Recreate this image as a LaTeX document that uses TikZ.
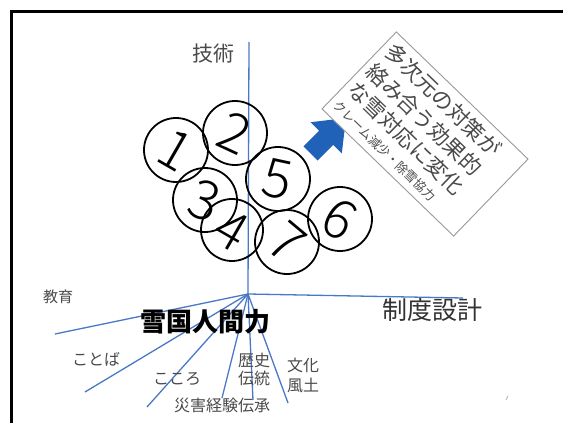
\documentclass[tikz,border=0pt]{standalone}
\usepackage{fontspec}
\setmainfont{Noto Sans CJK JP}
\IfFontExistsTF{Noto Sans CJK JP Light}
  {\newfontfamily\digitfont{Noto Sans CJK JP Light}}
  {\newfontfamily\digitfont{Noto Sans CJK JP}}
\definecolor{axisblue}{HTML}{4A78C8}
\definecolor{arrowblue}{HTML}{1F62B8}
\definecolor{txtgrey}{HTML}{4A4A4A}
\begin{document}
\begin{tikzpicture}[x=1pt,y=-1pt,
  axis/.style={draw=axisblue, line width=1.3},
  numc/.style={circle, draw=black, line width=1.8, minimum size=64, inner sep=0pt,
    font=\digitfont\fontsize{54}{54}\selectfont},
  lbl/.style={text=txtgrey, inner sep=0pt},
  boxtxt/.style={text=txtgrey, inner sep=0pt, transform shape, anchor=west,
    font=\fontsize{21.5}{21.5}\selectfont}]
\useasboundingbox (0,0) rectangle (563,423);
\fill[white] (0,0) rectangle (563,423);
% frame
\draw[line width=2.5] (563,11.5) -- (11.5,11.5) -- (11.5,423);
% axes
\coordinate (O) at (248,294);
\coordinate (vtop) at (249,42);
\coordinate (hend) at (463,298);
\coordinate (f1) at (55,334);
\coordinate (f2) at (85,392);
\coordinate (f3) at (147,407);
\coordinate (f4) at (222,398);
\coordinate (f5) at (253,400);
\coordinate (f6) at (288,403);
\draw[axis] (O) -- (vtop);
\draw[axis] (O) -- (hend);
\foreach \f in {f1,f2,f3,f4,f5,f6} \draw[axis] (O) -- (\f);
% labels
\node[lbl, font=\fontsize{21}{21}\selectfont] (tech) at (213,54) {技術};
\node[lbl, font=\fontsize{25}{25}\selectfont, text=black!80] (seido) at (432,310) {制度設計};
\node[inner sep=0pt, font=\fontsize{26}{26}\selectfont\bfseries] (yuki) at (205,322) {雪国人間力};
\node[lbl, font=\fontsize{15}{15}\selectfont] (kyoiku) at (58,297) {教育};
\node[lbl, font=\fontsize{16}{16}\selectfont] (kotoba) at (96,359) {ことば};
\node[lbl, font=\fontsize{16}{16}\selectfont] (kokoro) at (177,379) {こころ};
\node[lbl, font=\fontsize{16}{18}\selectfont, align=center] (rekishi) at (254,369) {歴史\\伝統};
\node[lbl, font=\fontsize{16}{20}\selectfont, align=center] (bunka) at (303,375) {文化\\風土};
\node[lbl, font=\fontsize{16}{16}\selectfont] (saigai) at (222,405) {災害経験伝承};
% circles
\node[numc, rotate=-30] (c1) at (176,150) {1};
\node[numc, rotate=-25] (c2) at (235,133) {2};
\node[numc, rotate=-20] (c3) at (205,200) {3};
\node[numc, rotate=-30, minimum size=62] (c4) at (232,230) {4};
\node[numc, rotate=-12] (c5) at (278,179) {5};
\node[numc, rotate=-30] (c6) at (340,219) {6};
\node[numc, rotate=-40] (c7) at (287,242) {7};
% blue arrow
\fill[arrowblue] (303.5,146.3) -- (319.1,130.7) -- (310.6,122.2) -- (346,118)
  -- (341.8,153.4) -- (333.3,144.9) -- (317.7,160.5) -- cycle;
% rotated text box
\begin{scope}[shift={(425,134)}, rotate=-44]
  \node[draw=gray!80, line width=0.9, minimum width=183, minimum height=107,
    transform shape, fill=white] (box) at (0,0) {};
  \node[boxtxt] (l1) at (-86,-37) {多次元の対策が};
  \node[boxtxt] (l2) at (-86,-10) {絡み合う効果的};
  \node[boxtxt] (l3) at (-86,16) {な雪対応に変化};
  \node[boxtxt, font=\fontsize{12.5}{12.5}\selectfont] (l4) at (-86,40) {クレーム減少・除雪協力};
\end{scope}
% speck
\draw[gray!60, line width=0.8] (506,400) -- (508,396);
\end{tikzpicture}
\end{document}
